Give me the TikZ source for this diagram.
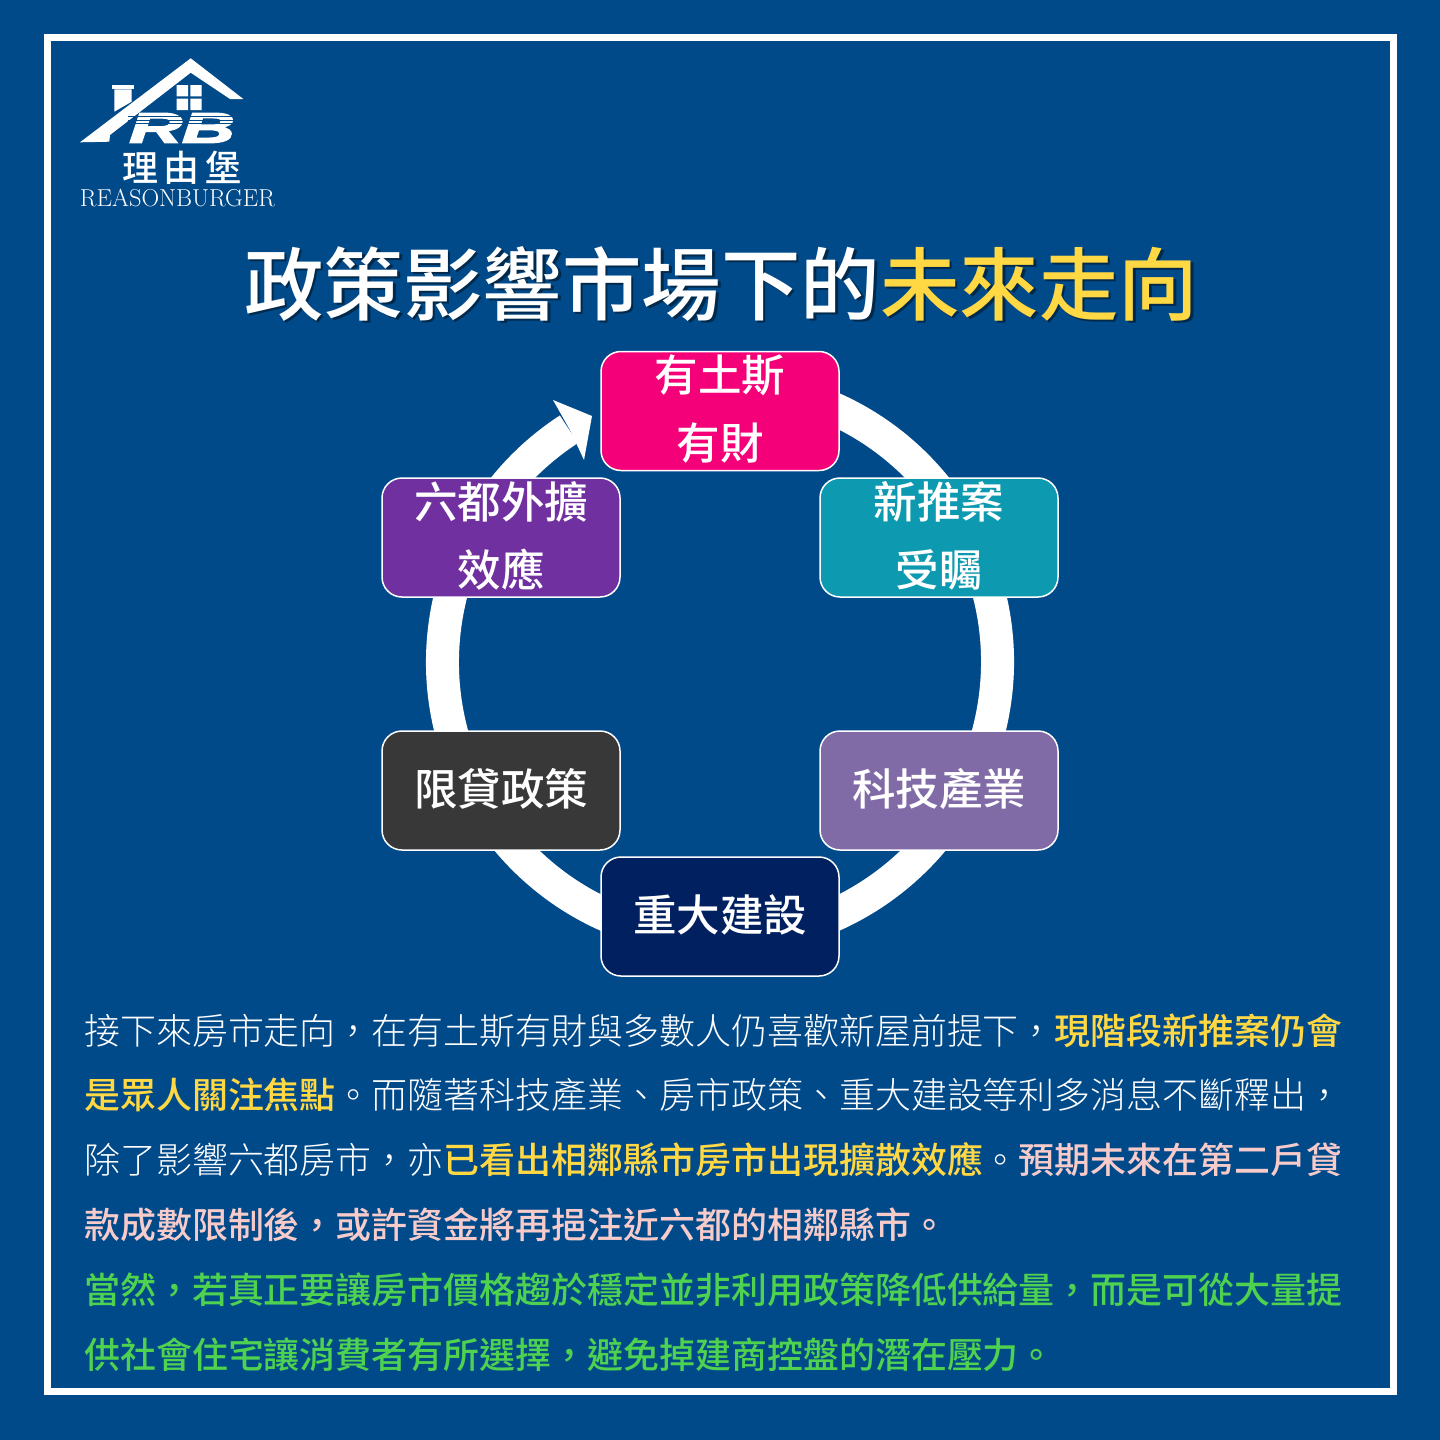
\documentclass[tikz,border=0pt]{standalone}
\usepackage{fontspec}
\newfontfamily\cjkl{Noto Sans CJK TC Light}
\newfontfamily\cjkb{Noto Sans CJK TC Medium}
\newfontfamily\rbfont[BoldItalicFeatures={FakeBold=3}]{Liberation Sans}
\definecolor{bgblue}{HTML}{004A8A}
\definecolor{ty}{HTML}{FFD843}
\definecolor{tp}{HTML}{F8CBCB}
\definecolor{tg}{HTML}{4FD24F}
\tikzset{
 x=1pt,y=-1pt,
 cyclebox/.style={draw=white,line width=1.5pt,rounded corners=20pt,minimum width=238pt,minimum height=119pt,inner sep=0pt,text=white,align=center,font=\cjkb\fontsize{43.5}{68}\selectfont},
 bodyline/.style={anchor=west,inner sep=0pt,text=white,font=\cjkl\fontsize{35.95}{36}\selectfont},
}
\newcommand{\ytx}[1]{{\cjkb\color{ty}#1}}
\newcommand{\ptx}[1]{{\cjkb\color{tp}#1}}
\newcommand{\gtx}[1]{{\cjkb\color{tg}#1}}
\newcommand{\lift}[1]{\raisebox{2pt}[\height][\depth]{#1}}
\newcommand{\cma}{\symbol{"FF0C}}
\begin{document}
\begin{tikzpicture}
\useasboundingbox (0,0) rectangle (1440,1440);
\fill[bgblue] (0,0) rectangle (1440,1440);
\draw[white,line width=7pt] (47.5,37.5) rectangle (1393.5,1391.5);
% logo
\fill[white] (190.7,58.3) -- (243.3,99) -- (230,99) -- (190.7,72.7) -- (110,135) -- (109.3,141.7) -- (80,142.3) -- cycle;
\fill[white] (112.3,85) rectangle (134,89.3);
\fill[white] (114.3,89.3) -- (131.7,89.3) -- (131.7,101.7) -- (114.3,111.7) -- cycle;
\fill[white] (176.7,85) rectangle (188,96.3) (190.4,85) rectangle (201.7,96.3) (176.7,98.7) rectangle (188,110) (190.4,98.7) rectangle (201.7,110);
\node[inner sep=0pt,text=white,font=\rbfont\bfseries\itshape\fontsize{43}{43}\selectfont,xscale=1.7,transform shape] (rb) at (182,128) {RB};
\foreach \ly in {116.5,120,123.5}{\draw[bgblue,line width=1pt] (128,\ly) -- (238,\ly);}
\node[inner sep=0pt,text=white,font=\cjkb\fontsize{36}{36}\selectfont] (lname) at (182,168) {理\hspace{6pt}由\hspace{6pt}堡};
\node[inner sep=0pt,text=white,font=\fontsize{24.5}{25}\selectfont] (lsub) at (177.5,198.5) {REASONBURGER};
% title
\node[inner sep=0pt,text=bgblue!55!black,font=\cjkb\fontsize{79.5}{80}\selectfont] (titleshade) at (723.5,286) {政策影響市場下的未來走向};
\node[inner sep=0pt,text=white,font=\cjkb\fontsize{79.5}{80}\selectfont] (title) at (721,284) {政策影響市場下的{\color{ty}未來走向}};
% ring
\coordinate (ringc) at (720,662);
\draw[white,line width=33pt] ([shift={(-80:277.5)}]ringc) arc[start angle=-80,end angle=237,radius=277.5];
\fill[white] (553,400) -- (592,416) -- (584,460) -- (570,430) -- cycle;
% boxes
\node[cyclebox,fill={rgb,255:red,244;green,0;blue,120}] (n1) at (720,411) {\lift{有土斯}\\\lift{有財}};
\node[cyclebox,fill={rgb,255:red,13;green,154;blue,176}] (n2) at (939,537.5) {\lift{新推案}\\\lift{受矚}};
\node[cyclebox,fill={rgb,255:red,129;green,107;blue,167}] (n3) at (939,790.5) {\lift{科技產業}};
\node[cyclebox,fill={rgb,255:red,0;green,32;blue,96}] (n4) at (720,916.5) {\lift{重大建設}};
\node[cyclebox,fill={rgb,255:red,56;green,56;blue,56}] (n5) at (501,790.5) {\lift{限貸政策}};
\node[cyclebox,fill={rgb,255:red,112;green,48;blue,160}] (n6) at (501,537.5) {\lift{六都外擴}\\\lift{效應}};
% body
\node[bodyline] (l1) at (84,1030.3) {接下來房市走向\cma 在有土斯有財與多數人仍喜歡新屋前提下\cma \ytx{現階段新推案仍會}};
\node[bodyline] (l2) at (84,1094.5) {\ytx{是眾人關注焦點}。而隨著科技產業、房市政策、重大建設等利多消息不斷釋出\cma};
\node[bodyline] (l3) at (84,1159.7) {除了影響六都房市\cma 亦\ytx{已看出相鄰縣市房市出現擴散效應}。\ptx{預期未來在第二戶貸}};
\node[bodyline] (l4) at (84,1224.7) {\ptx{款成數限制後\cma 或許資金將再挹注近六都的相鄰縣市。}};
\node[bodyline] (l5) at (84,1289.7) {\gtx{當然\cma 若真正要讓房市價格趨於穩定並非利用政策降低供給量\cma 而是可從大量提}};
\node[bodyline] (l6) at (84,1354.7) {\gtx{供社會住宅讓消費者有所選擇\cma 避免掉建商控盤的潛在壓力。}};
\end{tikzpicture}
\end{document}
